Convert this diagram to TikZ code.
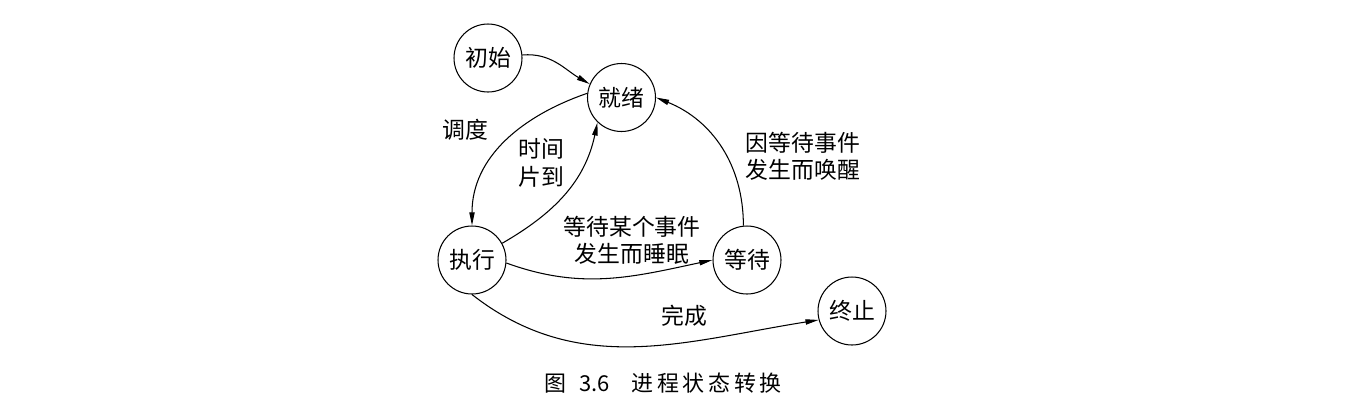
\documentclass[tikz,border=0pt]{standalone}
\usepackage{fontspec}
\setmainfont{Noto Sans CJK SC}
\usetikzlibrary{arrows.meta}
\tikzset{
  state/.style={draw, circle, line width=0.6pt, minimum size=1.36cm, inner sep=0pt, font=\fontsize{13}{15.5}\selectfont},
  lbl/.style={align=center, inner sep=0pt, font=\fontsize{13}{15.5}\selectfont},
  edge/.style={line width=0.6pt, -{Triangle[length=7.5pt,width=3pt]}},
}
\begin{document}
\begin{tikzpicture}[x=0.02cm,y=-0.02cm]
\path[use as bounding box, fill=white] (0,0) rectangle (1346,417);
\node[state] (init) at (488,58) {初始};
\node[state] (ready) at (621.5,97.5) {就绪};
\node[state] (run) at (472,260) {执行};
\node[state] (wait) at (747,260) {等待};
\node[state] (term) at (852,311) {终止};

\node[lbl] (l1) at (465,130) {调度};
\node[lbl] (l2) at (541,163) {时间\\片到};
\node[lbl] (l3) at (803,156) {因等待事件\\发生而唤醒};
\node[lbl] (l4) at (632,240) {等待某个事件\\发生而睡眠};
\node[lbl] (l5) at (684,316) {完成};
\node[lbl, font=\fontsize{12.5}{14}\selectfont] (cap) at (663,383) {图\hspace{0.6em}3.6\quad 进\,程\,状\,态\,转\,换};

\draw[edge] (init.5) to[out=5,in=150] (ready.157);
\draw[edge] (ready.173) to[out=199,in=90] (run.north);
\draw[edge] (run.29) to[out=30,in=258] (ready.226);
\draw[edge] (wait.96) to[out=90,in=-22] (ready.east);
\draw[edge] (run.-5) to[out=-20,in=192] (wait.west);
\draw[edge] (run.south) to[out=-38,in=189] (term.195);
\end{tikzpicture}
\end{document}
